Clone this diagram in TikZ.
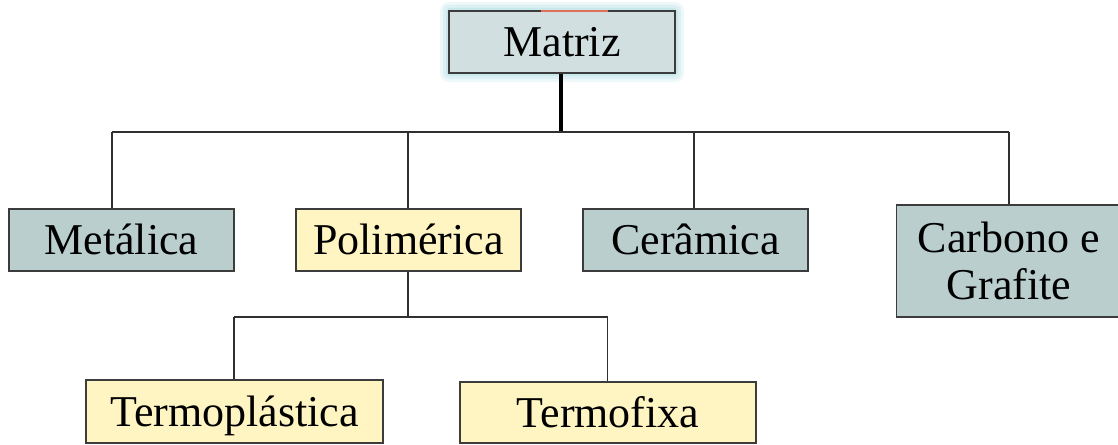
\documentclass[tikz,border=0pt]{standalone}
\usepackage{fontspec}
\setmainfont{Liberation Serif}
\definecolor{bordercol}{HTML}{3C3C3C}
\definecolor{linecol}{HTML}{303030}
\definecolor{grayfill}{HTML}{BACECE}
\definecolor{matfill}{HTML}{D2DFE0}
\definecolor{yelfill}{HTML}{FFF5C3}
\definecolor{glowa}{HTML}{EEF8F9}
\definecolor{glowb}{HTML}{DDF0F3}
\definecolor{glowc}{HTML}{C9E8EC}
\definecolor{redmark}{HTML}{E0705A}
\tikzset{
  x=1pt, y=-1pt,
  box/.style={draw=bordercol, line width=1.4pt, inner sep=0pt,
    font=\fontsize{44}{47}\selectfont, minimum width=225pt, minimum height=62pt},
  oneline/.style={text height=29pt, text depth=0pt},
  grey/.style={box, fill=grayfill},
  yel/.style={box, fill=yelfill},
  conn/.style={draw=linecol, line width=1.2pt},
  trunk/.style={draw=black, line width=4pt}
}
\begin{document}
\begin{tikzpicture}
\useasboundingbox (0,0) rectangle (1118,444);
% glow behind Matriz
\fill[glowa, rounded corners=9pt] (440,2) rectangle (684,82);
\fill[glowb, rounded corners=6pt] (443,5) rectangle (681,79);
\fill[glowc, rounded corners=4pt] (446,8) rectangle (678,76);
% nodes
\node[box, oneline, fill=matfill, minimum width=226pt] (mat) at (562,42) {Matriz};
\node[grey, oneline] (met) at (121.5,240) {Metálica};
\node[yel, oneline] (pol) at (408.5,240) {Polimérica};
\node[grey, oneline] (cer) at (695.5,240) {Cerâmica};
\node[grey, align=center, minimum height=112pt] (car) at (1009,261) {Carbono e\\Grafite};
\node[yel, oneline, minimum width=297pt, minimum height=63pt] (tpl) at (234.5,411.5) {Termoplástica};
\node[yel, oneline, minimum width=296pt, minimum height=61pt] (tfx) at (608,412.5) {Termofixa};
% red mark on top of Matriz
\coordinate (rm1) at (541,11);
\coordinate (rm2) at (608,11);
\draw[redmark, line width=2pt] (rm1) -- (rm2);
% bus coordinates
\coordinate (bc) at (561,132);
\coordinate (b1) at (112,132);
\coordinate (b2) at (408,132);
\coordinate (b3) at (694,132);
\coordinate (b4) at (1009,132);
\coordinate (pc) at (408,317);
\coordinate (p1) at (234,317);
\coordinate (p2) at (607.7,317);
% connectors
\draw[trunk] (mat.south -| bc) -- (bc);
\draw[conn] (b1) -- (b4);
\draw[conn] (b1) -- (b1 |- met.north);
\draw[conn] (b2) -- (b2 |- pol.north);
\draw[conn] (b3) -- (b3 |- cer.north);
\draw[conn] (b4) -- (b4 |- car.north);
\draw[conn] (pol.south -| pc) -- (pc);
\draw[conn] (p1) -- (p2);
\draw[conn] (p1) -- (p1 |- tpl.north);
\draw[conn] (p2) -- (p2 |- tfx.north);
\end{tikzpicture}
\end{document}
